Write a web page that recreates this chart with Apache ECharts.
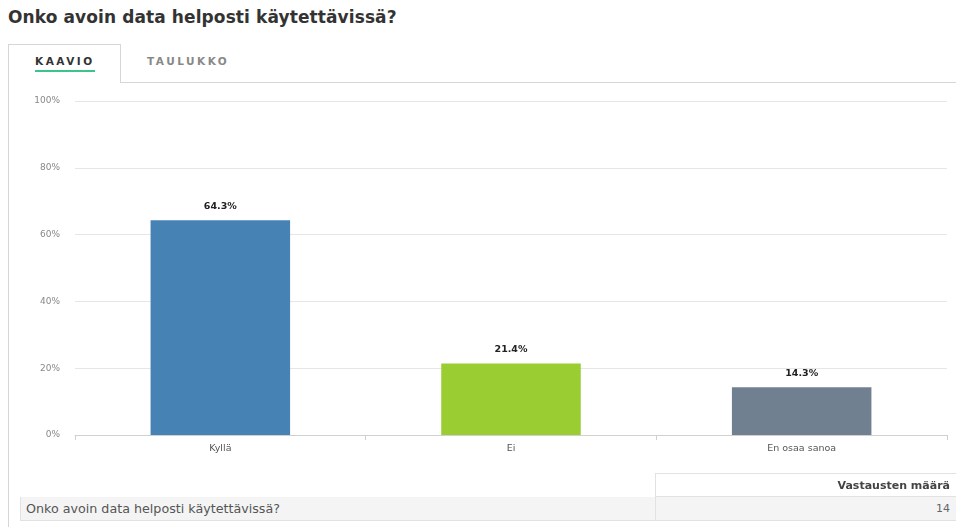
<!DOCTYPE html>
<html>
<head>
<meta charset="utf-8">
<script src="https://cdn.jsdelivr.net/npm/echarts@6/dist/echarts.min.js"></script>
<style>
  html, body { margin: 0; padding: 0; background: #fff; }
  body { width: 956px; height: 527px; position: relative; overflow: hidden; font-family: "DejaVu Sans", sans-serif; }
  #title { position: absolute; left: 8px; top: 7px; font-size: 17px; font-weight: 700; color: #333; letter-spacing: 0.1px; }
  #panel { position: absolute; left: 8px; top: 44px; width: 948px; height: 490px; border-left: 1px solid #d6d6d6; }
  #tabline { position: absolute; left: 120px; top: 82px; width: 836px; border-top: 1px solid #d6d6d6; }
  #tab { position: absolute; left: 8px; top: 44px; width: 111px; height: 38px; border: 1px solid #d6d6d6; border-bottom: none; background: #fff; }
  .tabtxt { position: absolute; top: 55px; font-size: 10.5px; font-weight: 700; letter-spacing: 2.5px; }
  #t1 { left: 35px; color: #333; }
  #t2 { left: 147px; color: #888; }
  #uline { position: absolute; left: 35px; top: 70px; width: 60px; height: 2px; background: #3cc48a; }
  #chart { position: absolute; left: 0; top: 0; width: 956px; height: 527px; }
  #thead { position: absolute; left: 655px; top: 473px; width: 301px; height: 24px; border: 1px solid #e2e2e2; border-right: none; box-sizing: border-box; font-size: 11px; font-weight: 700; color: #444; text-align: right; line-height: 23px; padding-right: 6px; }
  #trow { position: absolute; left: 20px; top: 497px; width: 936px; height: 24px; border: 1px solid #e2e2e2; border-top: none; border-right: none; box-sizing: border-box; background: #f4f4f4; font-size: 12.7px; color: #555; line-height: 23px; }
  #trow .q { position: absolute; left: 5px; }
  #trow .n { position: absolute; right: 6px; color: #666; font-size: 11px; }
  #trow .sep { position: absolute; left: 634px; top: 0; height: 23px; border-left: 1px solid #e2e2e2; }
</style>
</head>
<body>
<div id="title"></div>
<div id="panel"></div>
<div id="tab"></div>
<div id="tabline"></div>
<div class="tabtxt" id="t1">KAAVIO</div>
<div class="tabtxt" id="t2">TAULUKKO</div>
<div id="uline"></div>
<div id="chart"></div>
<div id="thead">Vastausten määrä</div>
<div id="trow"><span class="q"></span><span class="sep"></span><span class="n"></span></div>
<script>
// Survey question and answers
const question = 'Onko avoin data helposti käytettävissä?';
const categories = ['Kyllä', 'Ei', 'En osaa sanoa'];
const shares = [64.3, 21.4, 14.3];
const barColors = ['#4682b4', '#9acd32', '#708090'];
const responseCount = 14;
const yTicks = [0, 20, 40, 60, 80, 100];

document.getElementById('title').textContent = question;
document.querySelector('#trow .q').textContent = question;
document.querySelector('#trow .n').textContent = String(responseCount);

const chart = echarts.init(document.getElementById('chart'), null, { renderer: 'canvas' });
chart.setOption({
  animation: false,
  grid: { left: 75, right: 9, top: 101, bottom: 92, containLabel: false },
  xAxis: {
    type: 'category',
    data: categories,
    axisLine: { lineStyle: { color: '#d0d0d0' } },
    axisTick: { show: true, length: 5, lineStyle: { color: '#d0d0d0' } },
    axisLabel: { color: '#555', fontSize: 9.5, fontFamily: 'DejaVu Sans', margin: 9 }
  },
  yAxis: {
    type: 'value',
    min: yTicks[0],
    max: yTicks[yTicks.length - 1],
    interval: 20,
    axisLine: { show: false },
    axisTick: { show: false },
    axisLabel: { color: '#888', fontSize: 9, fontFamily: 'DejaVu Sans', margin: 15, formatter: '{value}%' },
    splitLine: { lineStyle: { color: '#e6e6e6', width: 1 } }
  },
  series: [{
    type: 'bar',
    barWidth: '48%',
    data: shares.map((v, i) => ({ value: v, itemStyle: { color: barColors[i] } })),
    label: {
      show: true,
      position: 'top',
      distance: 9,
      color: '#222',
      fontSize: 9.5,
      fontWeight: 'bold',
      fontFamily: 'DejaVu Sans',
      formatter: p => p.value.toFixed(1) + '%'
    }
  }]
});
</script>
</body>
</html>
